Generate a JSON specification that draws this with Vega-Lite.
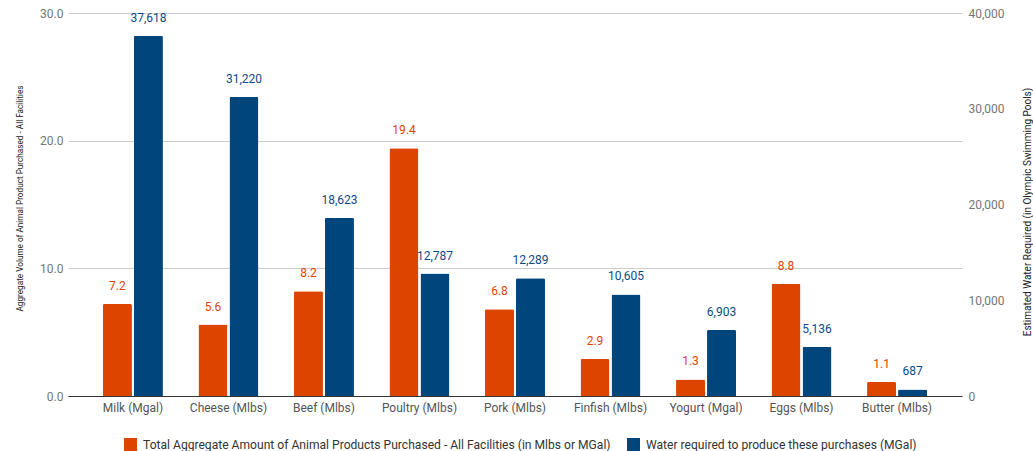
{
  "$schema": "https://vega.github.io/schema/vega-lite/v6.json",
  "width": 894,
  "height": 383,
  "autosize": {"type": "none"},
  "padding": {"left": 68, "top": 13, "right": 71, "bottom": 55},
  "config": {
    "font": "Roboto",
    "view": {"stroke": null},
    "axis": {"labelFont": "Roboto", "titleFont": "Roboto", "titleFontWeight": "normal"}
  },
  "data": {
    "values": [
      {"product": "Milk (Mgal)", "measure": "Total Aggregate Amount of Animal Products Purchased - All Facilities (in Mlbs or MGal)", "value": 7.2},
      {"product": "Cheese (Mlbs)", "measure": "Total Aggregate Amount of Animal Products Purchased - All Facilities (in Mlbs or MGal)", "value": 5.6},
      {"product": "Beef (Mlbs)", "measure": "Total Aggregate Amount of Animal Products Purchased - All Facilities (in Mlbs or MGal)", "value": 8.2},
      {"product": "Poultry (Mlbs)", "measure": "Total Aggregate Amount of Animal Products Purchased - All Facilities (in Mlbs or MGal)", "value": 19.4},
      {"product": "Pork (Mlbs)", "measure": "Total Aggregate Amount of Animal Products Purchased - All Facilities (in Mlbs or MGal)", "value": 6.8},
      {"product": "Finfish (Mlbs)", "measure": "Total Aggregate Amount of Animal Products Purchased - All Facilities (in Mlbs or MGal)", "value": 2.9},
      {"product": "Yogurt (Mgal)", "measure": "Total Aggregate Amount of Animal Products Purchased - All Facilities (in Mlbs or MGal)", "value": 1.3},
      {"product": "Eggs (Mlbs)", "measure": "Total Aggregate Amount of Animal Products Purchased - All Facilities (in Mlbs or MGal)", "value": 8.8},
      {"product": "Butter (Mlbs)", "measure": "Total Aggregate Amount of Animal Products Purchased - All Facilities (in Mlbs or MGal)", "value": 1.1},
      {"product": "Milk (Mgal)", "measure": "Water required to produce these purchases (MGal)", "value": 37618},
      {"product": "Cheese (Mlbs)", "measure": "Water required to produce these purchases (MGal)", "value": 31220},
      {"product": "Beef (Mlbs)", "measure": "Water required to produce these purchases (MGal)", "value": 18623},
      {"product": "Poultry (Mlbs)", "measure": "Water required to produce these purchases (MGal)", "value": 12787},
      {"product": "Pork (Mlbs)", "measure": "Water required to produce these purchases (MGal)", "value": 12289},
      {"product": "Finfish (Mlbs)", "measure": "Water required to produce these purchases (MGal)", "value": 10605},
      {"product": "Yogurt (Mgal)", "measure": "Water required to produce these purchases (MGal)", "value": 6903},
      {"product": "Eggs (Mlbs)", "measure": "Water required to produce these purchases (MGal)", "value": 5136},
      {"product": "Butter (Mlbs)", "measure": "Water required to produce these purchases (MGal)", "value": 687}
    ]
  },
  "encoding": {
    "x": {
      "field": "product",
      "type": "nominal",
      "sort": null,
      "title": null,
      "scale": {"paddingInner": 0.372, "paddingOuter": 0.366},
      "axis": {
        "labelAngle": 0,
        "labelFontSize": 12,
        "labelColor": "#555555",
        "labelPadding": 6,
        "ticks": false,
        "domainColor": "#333333",
        "domainWidth": 1
      }
    },
    "xOffset": {
      "field": "measure",
      "type": "nominal",
      "scale": {
        "domain": [
          "Total Aggregate Amount of Animal Products Purchased - All Facilities (in Mlbs or MGal)",
          "Water required to produce these purchases (MGal)"
        ],
        "paddingInner": 0.065,
        "paddingOuter": 0
      }
    }
  },
  "layer": [
    {
      "transform": [{"filter": "datum.measure !== 'Water required to produce these purchases (MGal)'"}],
      "encoding": {
        "y": {
          "field": "value",
          "type": "quantitative",
          "scale": {"domain": [0, 30], "nice": false},
          "axis": {
            "orient": "left",
            "values": [0, 10, 20, 30],
            "format": ".1f",
            "labelFontSize": 12,
            "labelColor": "#757575",
            "labelPadding": 5,
            "ticks": false,
            "domain": false,
            "grid": true,
            "gridColor": "#cccccc",
            "title": "Aggregate Volume of Animal Product Purchased - All Facilities",
            "titleFontSize": 8.2,
            "titleColor": "#222222",
            "titleAngle": 270,
            "titleAlign": "center",
            "titleBaseline": "middle",
            "titleX": -48,
            "titleY": 185
          }
        }
      },
      "layer": [
        {
          "mark": {"type": "bar", "cornerRadiusEnd": 1.5},
          "encoding": {
            "color": {
              "field": "measure",
              "type": "nominal",
              "scale": {
                "domain": [
                  "Total Aggregate Amount of Animal Products Purchased - All Facilities (in Mlbs or MGal)",
                  "Water required to produce these purchases (MGal)"
                ],
                "range": ["#dd4400", "#00457c"]
              },
              "legend": {
                "title": null,
                "orient": "none",
                "direction": "horizontal",
                "legendX": 56,
                "legendY": 425,
                "symbolType": "square",
                "symbolSize": 169,
                "symbolStrokeWidth": 0,
                "symbolOpacity": 1,
                "labelFontSize": 12.1,
                "labelColor": "#333333",
                "labelOffset": 6,
                "labelLimit": 700,
                "columnPadding": 16
              }
            }
          }
        },
        {
          "mark": {"type": "text", "baseline": "alphabetic", "dy": -14, "fontSize": 12, "color": "#dd4400"},
          "encoding": {"text": {"field": "value", "type": "quantitative", "format": ".1f"}}
        }
      ]
    },
    {
      "transform": [{"filter": "datum.measure === 'Water required to produce these purchases (MGal)'"}],
      "encoding": {
        "y": {
          "field": "value",
          "type": "quantitative",
          "scale": {"domain": [0, 40000], "nice": false},
          "axis": {
            "orient": "right",
            "values": [0, 10000, 20000, 30000, 40000],
            "format": ",.0f",
            "labelFontSize": 12,
            "labelColor": "#757575",
            "labelPadding": 6,
            "ticks": false,
            "domain": false,
            "grid": false,
            "title": "Estimated Water Required (in Olympic Swimming Pools)",
            "titleFontSize": 10,
            "titleColor": "#222222",
            "titleAngle": 270,
            "titleAlign": "center",
            "titleBaseline": "middle",
            "titleX": 65,
            "titleY": 198.5
          }
        }
      },
      "layer": [
        {
          "mark": {"type": "bar", "cornerRadiusEnd": 1.5},
          "encoding": {
            "color": {"field": "measure", "type": "nominal"}
          }
        },
        {
          "mark": {"type": "text", "baseline": "alphabetic", "dy": -14, "fontSize": 12, "color": "#0d4a85"},
          "encoding": {"text": {"field": "value", "type": "quantitative", "format": ",.0f"}}
        }
      ]
    }
  ],
  "resolve": {"scale": {"y": "independent"}}
}
